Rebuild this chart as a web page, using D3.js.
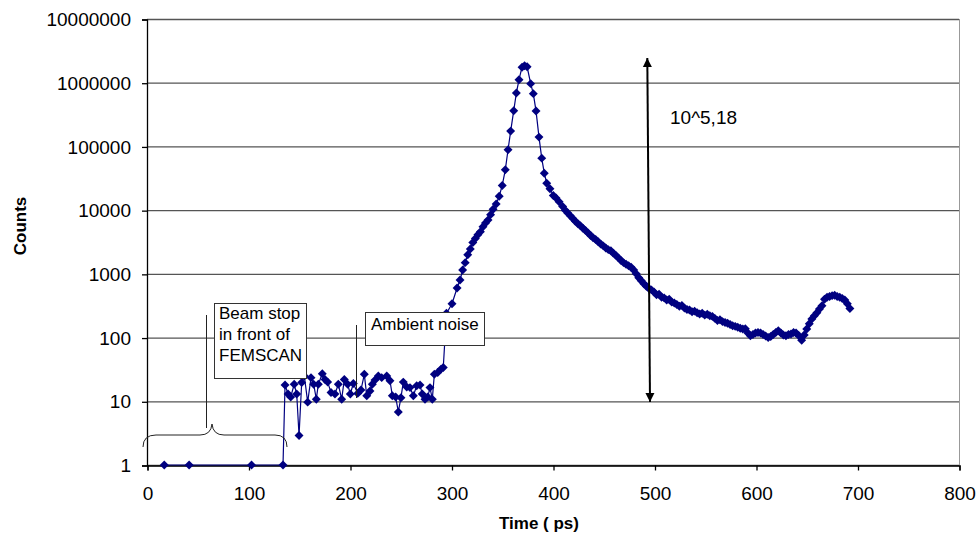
<!DOCTYPE html>
<html>
<head>
<meta charset="utf-8">
<script src="https://cdn.jsdelivr.net/npm/d3@7"></script>
<style>
  body { margin: 0; background: #fff; }
  svg { font-family: "Liberation Sans", Arial, sans-serif; }
</style>
</head>
<body>
<svg id="chart" width="976" height="540"></svg>
<script>
// time (ps) and counts
var baseTimes = [17, 41.5, 103, 134]
var baseCounts = [1, 1, 1, 1]

var noiseTimes = [136, 139, 141.6, 145, 147.5, 149.8, 152.4, 155, 158.3, 161.6, 164.2, 166.8, 168.8, 172.7, 175.4, 178, 181.3, 185.2, 188.5, 191.8, 194.4, 197.7, 200.3, 203.3, 207.6, 210.8, 214.1, 216.5, 219.7, 222, 224.6, 227.9, 231.2, 236.2, 239.4, 241.7, 245, 247.6, 250.2, 252.5, 255.9, 259.1, 262.4, 265.7, 269, 271.2, 273.9, 276.6, 278.8, 281.1, 283.1, 286.4, 289.7, 291.9]
var noiseCounts = [18, 13, 11.7, 18.5, 13, 2.9, 19.7, 25, 9.7, 23.5, 18.5, 10.8, 18.5, 27, 22, 20, 13.7, 13, 18.5, 10.8, 22, 18.5, 13, 19, 13.3, 15, 26.5, 12.2, 14.5, 18.5, 21.5, 25, 23.5, 25, 21, 12.2, 11.7, 6.8, 11.4, 20, 16.8, 16.4, 12.2, 17.5, 18, 13, 10.8, 11.7, 16.4, 10.8, 26.5, 28.3, 32, 34]

var peakTimes = [295, 300.5, 305.5, 308.4, 311, 313.5, 316, 318.5, 321, 323.5, 326, 328.5, 331, 333.5, 336, 338.5, 341, 344, 347, 350, 353, 355.7, 358.3, 361.3, 363.9, 366.5, 369.5, 372, 374.5, 378, 380.6, 383.3, 386.2, 388.9, 391.4, 393.8, 397, 400.3, 403, 406]
var peakCounts = [240, 340, 600, 800, 1150, 1500, 2000, 2450, 3100, 3600, 4100, 4600, 5500, 6300, 7000, 8500, 10300, 12500, 16500, 24400, 43000, 88700, 174000, 364000, 689000, 1117000, 1750000, 1850000, 1780000, 967000, 674000, 359000, 140000, 65500, 38000, 26500, 21600, 17000, 15500, 13500]

var tailTimes = [409.5, 412, 414.5, 417, 419.5, 422, 424.5, 427, 429.5, 432, 434.5, 437, 439.5, 442, 444.5, 447, 449.5, 452, 454.5, 457, 459.5, 462, 464.5, 467, 469.5, 472, 474.5, 477, 479.5, 482, 484.5, 487, 489.5, 492, 494.5, 497, 499.5, 502, 504.5, 507, 509.5, 512, 514.5, 517, 519.5, 522, 524.5, 527, 529.5, 532, 534.5, 537, 539.5, 542, 544.5, 547, 549.5, 552, 554.5, 557, 559.5, 562, 564.5, 567, 569.5, 572, 574.5, 577, 579.5, 582, 584.5, 587, 589.5, 592, 594.5, 597, 599.5, 602, 604.5, 607, 609.5, 612, 614.5, 617, 619.5, 622, 624.5, 627, 629.5, 632, 634.5, 637, 639.5, 642, 645, 647.5, 650, 652.5, 655, 657.5, 660, 662.5, 665, 667.5, 670, 672.5, 675, 677.5, 680, 682.5, 685, 687.5, 690, 692.5]
var tailCounts = [11400, 10000, 9000, 8200, 7400, 6700, 6100, 5700, 5200, 4800, 4400, 4000, 3700, 3450, 3200, 2950, 2750, 2550, 2400, 2300, 2100, 1950, 1780, 1620, 1500, 1420, 1340, 1270, 1150, 1000, 870, 780, 700, 640, 590, 560, 520, 470, 480, 430, 420, 390, 400, 360, 350, 330, 310, 320, 290, 275, 270, 255, 260, 245, 235, 240, 225, 232, 220, 215, 200, 185, 190, 178, 173, 168, 160, 153, 150, 145, 140, 136, 138, 118, 107, 112, 118, 120, 118, 112, 106, 100, 104, 112, 120, 128, 118, 110, 107, 112, 114, 120, 118, 108, 91, 110, 136, 165, 195, 220, 246, 280, 316, 400, 430, 440, 455, 460, 440, 430, 410, 390, 340, 285]

var xTicks = [0, 100, 200, 300, 400, 500, 600, 700, 800]
var yTicks = [1, 10, 100, 1000, 10000, 100000, 1000000, 10000000]

var times = baseTimes.concat(noiseTimes, peakTimes, tailTimes)
var counts = baseCounts.concat(noiseCounts, peakCounts, tailCounts)
var dataset = times.map((t, i) => ({ t: t, c: counts[i] }))

var svg = d3.select("#chart")
var seriesColor = "#000080"
var gridColor = "#555"

var dims = { left: 147, right: 959, top: 19, bottom: 465 }

var xScale = d3.scaleLinear().domain([0, 800]).range([dims.left, dims.right])
var yScale = d3.scaleLog().domain([1, 1e7]).range([dims.bottom, dims.top])

// gridlines
svg.append("g")
   .selectAll("line")
   .data(yTicks)
   .enter()
   .append("line")
   .attr("x1", dims.left)
   .attr("x2", dims.right)
   .attr("y1", d => yScale(d) + 0.5)
   .attr("y2", d => yScale(d) + 0.5)
   .attr("stroke", gridColor)
   .attr("stroke-width", 1.3)

// right border of plot area
svg.append("line")
   .attr("x1", dims.right + 0.5).attr("x2", dims.right + 0.5)
   .attr("y1", dims.top).attr("y2", dims.bottom)
   .attr("stroke", "#999")

// axes
var yAxis = svg.append("g")
   .attr("transform", `translate(${dims.left},0.5)`)
   .call(d3.axisLeft(yScale).tickValues(yTicks).tickFormat(d3.format("d")).tickSizeOuter(0).tickSize(5).tickPadding(11))
var xAxis = svg.append("g")
   .attr("transform", `translate(0.5,${dims.bottom + 0.5})`)
   .call(d3.axisBottom(xScale).tickValues(xTicks).tickSizeOuter(0).tickSize(5).tickPadding(16))

svg.selectAll(".domain, .tick line").attr("stroke", "#000").attr("stroke-width", 1.3)
svg.selectAll(".tick text").attr("font-size", 19).attr("font-family", "Liberation Sans, Arial, sans-serif").attr("fill", "#000")

// axis titles
svg.append("text")
   .attr("text-anchor", "middle")
   .attr("font-weight", "bold")
   .attr("font-size", 17)
   .attr("transform", `rotate(-90, 26, 226)`)
   .attr("x", 26)
   .attr("y", 226)
   .text("Counts")

svg.append("text")
   .attr("text-anchor", "middle")
   .attr("font-weight", "bold")
   .attr("font-size", 17)
   .attr("x", 539)
   .attr("y", 529)
   .text("Time ( ps)")

// series line
var line = d3.line().x(d => xScale(d.t)).y(d => yScale(d.c))
svg.append("path")
   .datum(dataset)
   .attr("d", line)
   .attr("fill", "none")
   .attr("stroke", seriesColor)
   .attr("stroke-width", 1.2)

// diamond markers
var marker = d3.symbol().type(d3.symbolSquare).size(40)
svg.append("g")
   .selectAll("path")
   .data(dataset)
   .enter()
   .append("path")
   .attr("d", marker)
   .attr("transform", d => `translate(${xScale(d.t)},${yScale(d.c)}) rotate(45)`)
   .attr("fill", seriesColor)

// annotations
var notes = svg.append("g").attr("font-size", 17)

// brace under the beam-stop region
var braceY = 435
notes.append("path")
   .attr("d", `M143,447 Q143,${braceY} 156,${braceY} L200,${braceY} Q211,${braceY} 212,424 Q213,${braceY} 224,${braceY} L275,${braceY} Q287,${braceY} 287,447`)
   .attr("fill", "none")
   .attr("stroke", "#222")
   .attr("stroke-width", 1)

notes.append("line")
   .attr("x1", 206.5).attr("x2", 206.5).attr("y1", 315).attr("y2", 428)
   .attr("stroke", "#222")

notes.append("rect")
   .attr("x", 214.5).attr("y", 303.5).attr("width", 92).attr("height", 75)
   .attr("fill", "#fff").attr("stroke", "#333")

var beamLines = ["Beam stop", "in front of", "FEMSCAN"]
notes.selectAll(".beam")
   .data(beamLines)
   .enter()
   .append("text")
   .attr("x", 219)
   .attr("y", (d, i) => 319 + i * 21)
   .text(d => d)

notes.append("line")
   .attr("x1", 356.5).attr("x2", 356.5).attr("y1", 325).attr("y2", 398)
   .attr("stroke", "#222")

notes.append("rect")
   .attr("x", 365.5).attr("y", 312.5).attr("width", 119).attr("height", 33)
   .attr("fill", "#fff").attr("stroke", "#333")

notes.append("text")
   .attr("x", 371)
   .attr("y", 330)
   .text("Ambient noise")

// double-headed arrow across the dynamic range
svg.append("defs").selectAll("marker")
   .data(["head"])
   .enter()
   .append("marker")
   .attr("id", "head")
   .attr("viewBox", "0 0 10 10")
   .attr("refX", 10).attr("refY", 5)
   .attr("markerWidth", 9).attr("markerHeight", 10)
   .attr("markerUnits", "userSpaceOnUse")
   .attr("orient", "auto-start-reverse")
   .append("path")
   .attr("d", "M0,0 L10,5 L0,10 Z")
   .attr("fill", "#000")

svg.append("line")
   .attr("x1", 647.3).attr("y1", 58)
   .attr("x2", 650).attr("y2", 402)
   .attr("stroke", "#000")
   .attr("stroke-width", 2)
   .attr("marker-start", "url(#head)")
   .attr("marker-end", "url(#head)")

svg.append("text")
   .attr("x", 670)
   .attr("y", 124)
   .attr("font-size", 19)
   .text("10^5,18")
</script>
</body>
</html>
